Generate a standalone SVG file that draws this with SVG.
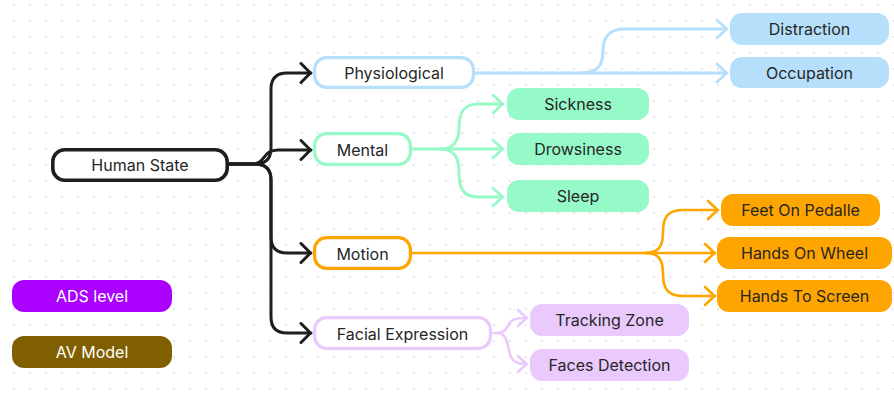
<svg xmlns="http://www.w3.org/2000/svg" width="894" height="393" viewBox="0 0 894 393">
<defs>
<pattern id="dots" width="16" height="16" patternUnits="userSpaceOnUse">
<circle cx="14" cy="5" r="0.9" fill="#d9d9d9"/>
</pattern>
<marker id="ak" markerUnits="userSpaceOnUse" markerWidth="16" markerHeight="24" refX="13" refY="11" orient="auto"><path d="M3,1.5 L12.5,11 L3,20.5" fill="none" stroke="#1e1e1e" stroke-width="3" stroke-linecap="round" stroke-linejoin="round"/></marker>
<marker id="ab" markerUnits="userSpaceOnUse" markerWidth="16" markerHeight="24" refX="13" refY="11" orient="auto"><path d="M3,2 L12.5,11 L3,20" fill="none" stroke="#b5dffb" stroke-width="2.8" stroke-linecap="round" stroke-linejoin="round"/></marker>
<marker id="ag" markerUnits="userSpaceOnUse" markerWidth="16" markerHeight="24" refX="13" refY="11" orient="auto"><path d="M3,2 L12.5,11 L3,20" fill="none" stroke="#96f9c8" stroke-width="2.8" stroke-linecap="round" stroke-linejoin="round"/></marker>
<marker id="ao" markerUnits="userSpaceOnUse" markerWidth="16" markerHeight="24" refX="13" refY="11" orient="auto"><path d="M3,2 L12.5,11 L3,20" fill="none" stroke="#ffa500" stroke-width="2.6" stroke-linecap="round" stroke-linejoin="round"/></marker>
<marker id="ap" markerUnits="userSpaceOnUse" markerWidth="16" markerHeight="24" refX="13" refY="11" orient="auto"><path d="M4,3 L12.5,11 L4,19" fill="none" stroke="#eac9fc" stroke-width="2.6" stroke-linecap="round" stroke-linejoin="round"/></marker>
</defs>
<style>
text{font-family:Inter,"Liberation Sans",sans-serif;font-size:16px;fill:#262626;text-anchor:middle}
.w{fill:#fff}
.c{fill:none;stroke-linecap:round;stroke-linejoin:round}
.k{stroke:#1e1e1e;stroke-width:3}
.b{stroke:#b5dffb;stroke-width:3}
.g{stroke:#96f9c8;stroke-width:3}
.o{stroke:#ffa500;stroke-width:2.6}
.p{stroke:#eac9fc;stroke-width:2.6}
.ob{fill:#fff;stroke-width:3.2}
</style>
<rect width="894" height="393" fill="#fff"/>
<rect width="894" height="393" fill="url(#dots)"/>
<g id="connectors">
<path class="c k" marker-end="url(#ak)" d="M229,164 H255 Q271,164 271,148 V89 Q271,73 287,73 H311"/>
<path class="c k" marker-end="url(#ak)" d="M229,164 H252 C266,164 262,150 278,150 H311"/>
<path class="c k" marker-end="url(#ak)" d="M229,164 H255 Q271,164 271,180 V237 Q271,253 287,253 H311"/>
<path class="c k" marker-end="url(#ak)" d="M229,164 H255 Q271,164 271,180 V317 Q271,333 287,333 H311"/>
<path class="c b" marker-end="url(#ab)" d="M475,73 H727"/>
<path class="c b" marker-end="url(#ab)" d="M580,73 C598,73 603,65 603,51 C603,36 610,29 625,29 H727"/>
<path class="c g" marker-end="url(#ag)" d="M412,149 H503"/>
<path class="c g" marker-end="url(#ag)" d="M440,149 C455,149 459,140 459,127 C459,112 464,104 478,104 H503"/>
<path class="c g" marker-end="url(#ag)" d="M440,149 C455,149 459,158 459,173 C459,189 464,197 478,197 H503"/>
<path class="c o" marker-end="url(#ao)" d="M412,253 H715"/>
<path class="c o" marker-end="url(#ao)" d="M645,253 C660,253 663,245 663,232 C663,217 668,210 683,210 H718"/>
<path class="c o" marker-end="url(#ao)" d="M645,253 C660,253 663,261 663,274 C663,289 668,296 683,296 H715"/>
<path class="c p" marker-end="url(#ap)" d="M492,333 H497 C505,333 507,327 509,324 C511,320 514,318 527,318"/>
<path class="c p" marker-end="url(#ap)" d="M497,333 C505,333 507,340 509,350 C511,360 514,364 527,364"/>
</g>
<g id="human-state"><rect x="52.8" y="149.8" width="174.4" height="30.4" rx="12" fill="#fff" stroke="#1e1e1e" stroke-width="3.6"/><text x="140" y="170.8">Human State</text></g>
<g id="physiological"><rect class="ob" x="314.6" y="57.6" width="158.8" height="29.8" rx="12" stroke="#b5dffb"/><text x="394" y="78.5">Physiological</text></g>
<g id="mental"><rect class="ob" x="314.6" y="133.6" width="95.8" height="30.8" rx="12" stroke="#96f9c8"/><text x="362.5" y="155.5">Mental</text></g>
<g id="motion"><rect class="ob" x="314.6" y="237.6" width="95.8" height="30.8" rx="12" stroke="#ffa500"/><text x="362.5" y="259.5">Motion</text></g>
<g id="facial-expression"><rect class="ob" x="314.6" y="317.6" width="175.8" height="30.8" rx="12" stroke="#eac9fc"/><text x="402.5" y="339.5">Facial Expression</text></g>
<g id="distraction"><rect x="730" y="13" width="159" height="32" rx="12" fill="#b5dffb"/><text x="809.5" y="35">Distraction</text></g>
<g id="occupation"><rect x="730" y="57" width="159" height="31" rx="12" fill="#b5dffb"/><text x="809.5" y="78.5">Occupation</text></g>
<g id="sickness"><rect x="507" y="88" width="142" height="32" rx="12" fill="#96f9c8"/><text x="578" y="110">Sickness</text></g>
<g id="drowsiness"><rect x="507" y="133" width="142" height="32" rx="12" fill="#96f9c8"/><text x="578" y="155">Drowsiness</text></g>
<g id="sleep"><rect x="507" y="180" width="142" height="32" rx="12" fill="#96f9c8"/><text x="578" y="202">Sleep</text></g>
<g id="feet-on-pedalle"><rect x="721" y="194" width="159" height="32" rx="12" fill="#ffa500"/><text x="800.5" y="216">Feet On Pedalle</text></g>
<g id="hands-on-wheel"><rect x="717" y="237" width="175" height="32" rx="12" fill="#ffa500"/><text x="804.5" y="259">Hands On Wheel</text></g>
<g id="hands-to-screen"><rect x="717" y="280" width="175" height="32" rx="12" fill="#ffa500"/><text x="804.5" y="302">Hands To Screen</text></g>
<g id="tracking-zone"><rect x="530" y="304" width="159" height="32" rx="12" fill="#eac9fc"/><text x="609.5" y="326">Tracking Zone</text></g>
<g id="faces-detection"><rect x="530" y="349" width="159" height="32" rx="12" fill="#eac9fc"/><text x="609.5" y="371">Faces Detection</text></g>
<g id="ads-level"><rect x="12" y="280" width="160" height="32" rx="12" fill="#ab00ff"/><text class="w" x="92" y="302">ADS level</text></g>
<g id="av-model"><rect x="12" y="336" width="160" height="32" rx="12" fill="#7f5f00"/><text class="w" x="92" y="358">AV Model</text></g>
</svg>
